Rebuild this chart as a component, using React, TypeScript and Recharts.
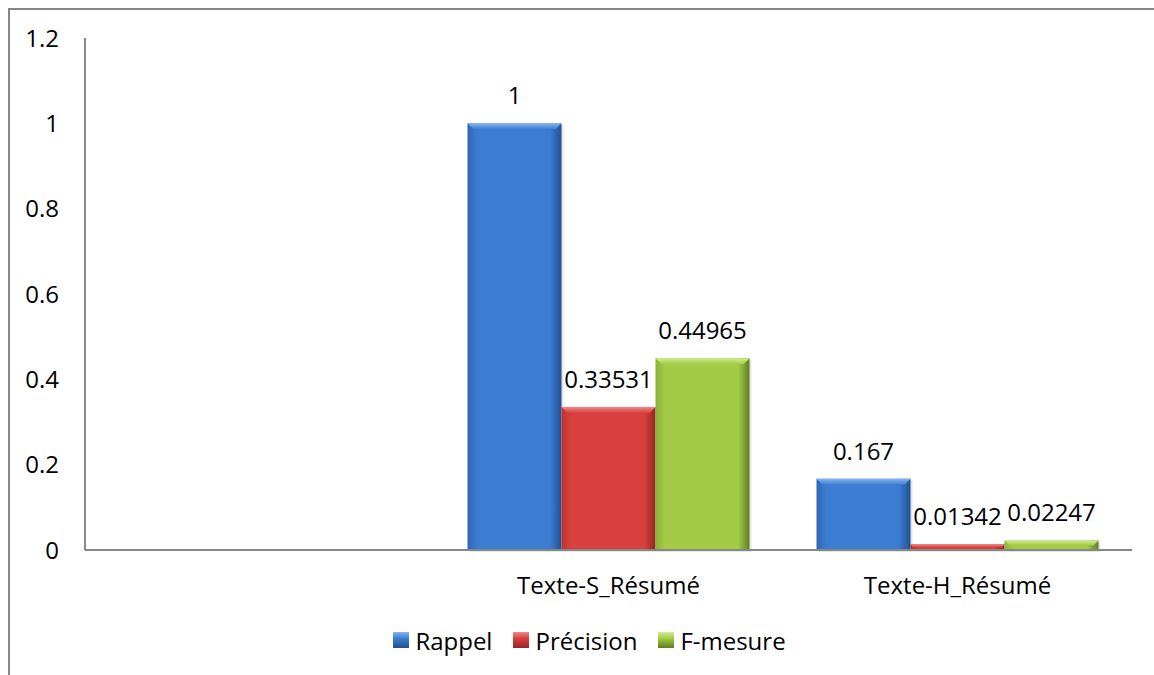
import React from "react";
import { BarChart, Bar, XAxis, YAxis, Legend, LabelList } from "recharts";

// Scores per summary type; the leading blank slot keeps the empty first group on the axis.
const categories = ["", "Texte-S_Résumé", "Texte-H_Résumé"];
const rappel = [null, 1, 0.167];
const precision = [null, 0.33531, 0.01342];
const fMesure = [null, 0.44965, 0.02247];
const yTicks = [0, 0.2, 0.4, 0.6, 0.8, 1, 1.2];
const seriesOrder = ["rappel", "precision", "fMesure"];

const FONT = "'Open Sans', sans-serif";
const FONT_SIZE = 24;
const AXIS = "#878787";

const palette: Record<string, { base: string; edge: string; dark: string; light: string }> = {
  rappel: { base: "#3b7dd3", edge: "#2f66b4", dark: "#24508f", light: "#86b6ee" },
  precision: { base: "#d8403d", edge: "#bd3431", dark: "#932624", light: "#ee8b88" },
  fMesure: { base: "#a3cb45", edge: "#8ab236", dark: "#5f7d22", light: "#d2ec95" },
};

const data = categories.map((name, i) => ({
  name,
  rappel: rappel[i],
  precision: precision[i],
  fMesure: fMesure[i],
}));

function Gradients() {
  return (
    <defs>
      {Object.entries(palette).map(([k, c]) => (
        <React.Fragment key={k}>
          <linearGradient id={`${k}-h`} x1="0" y1="0" x2="1" y2="0">
            <stop offset="0%" stopColor={c.edge} />
            <stop offset="10%" stopColor={c.base} />
            <stop offset="50%" stopColor={c.base} />
            <stop offset="88%" stopColor={c.base} />
            <stop offset="100%" stopColor={c.dark} />
          </linearGradient>
          <linearGradient id={`${k}-top`} x1="0" y1="0" x2="0" y2="1">
            <stop offset="0%" stopColor={c.light} />
            <stop offset="100%" stopColor={c.base} />
          </linearGradient>
          <linearGradient id={`${k}-icon`} x1="0" y1="0" x2="0" y2="1">
            <stop offset="0%" stopColor={c.light} />
            <stop offset="40%" stopColor={c.base} />
            <stop offset="100%" stopColor={c.dark} />
          </linearGradient>
        </React.Fragment>
      ))}
    </defs>
  );
}

// Bevelled bar: horizontal shading plus a lighter top edge and a soft drop shadow.
function BevelBar(props: any) {
  const { x, y, width, height, gid } = props;
  if (!height || height <= 0 || !width) return null;
  const b = Math.min(6, height / 2);
  return (
    <g>
      <rect x={x + 2} y={y + 2} width={width} height={height} fill="rgba(0,0,0,0.10)" />
      <rect x={x} y={y} width={width} height={height} fill={`url(#${gid}-h)`} />
      <polygon
        points={`${x},${y} ${x + width},${y} ${x + width - b},${y + b} ${x + b},${y + b}`}
        fill={`url(#${gid}-top)`}
      />
    </g>
  );
}

function ValueLabel(props: any) {
  const { x, y, width, value } = props;
  if (value == null) return null;
  return (
    <text
      x={x + width / 2}
      y={y - 19}
      textAnchor="middle"
      fontFamily={FONT}
      fontSize={FONT_SIZE}
      fill="#000"
    >
      {String(value)}
    </text>
  );
}

function LegendRow(props: any) {
  const items = [...(props.payload || [])].sort(
    (a: any, b: any) => seriesOrder.indexOf(a.dataKey) - seriesOrder.indexOf(b.dataKey)
  );
  return (
    <div
      style={{
        display: "flex",
        justifyContent: "center",
        paddingLeft: 15,
        fontFamily: FONT,
        fontSize: FONT_SIZE,
        color: "#000",
      }}
    >
      {items.map((it: any, i: number) => (
        <div
          key={it.dataKey}
          style={{ display: "flex", alignItems: "center", marginRight: i < items.length - 1 ? 21 : 0 }}
        >
          <svg width={16} height={16} style={{ marginRight: 6, marginTop: -2 }}>
            <rect width={16} height={16} fill={`url(#${it.dataKey}-icon)`} />
          </svg>
          <span>{it.value}</span>
        </div>
      ))}
    </div>
  );
}

export default function App() {
  const tick = { fontFamily: FONT, fontSize: FONT_SIZE, fill: "#000" };
  return (
    <div style={{ width: 1146, height: 659, overflow: "hidden", background: "#fff" }}>
      {/* frame edges run off the page on the right and bottom */}
      <div style={{ position: "fixed", left: 8, top: 8, width: 2, bottom: 0, background: AXIS }} />
      <div style={{ position: "fixed", left: 8, top: 8, height: 2, right: 0, background: AXIS }} />
      <div style={{ paddingLeft: 2, paddingTop: 2 }}>
        <BarChart
          width={1144}
          height={657}
          data={data}
          margin={{ top: 28, right: 22, left: 0, bottom: 57 }}
          barCategoryGap="9.6%"
          barGap={0}
        >
          <Gradients />
          <XAxis
            dataKey="name"
            height={60}
            tickLine={false}
            tickSize={0}
            tickMargin={27}
            axisLine={{ stroke: AXIS, strokeWidth: 2 }}
            tick={tick}
            interval={0}
          />
          <YAxis
            width={75}
            domain={[0, 1.2]}
            ticks={yTicks}
            tickLine={false}
            tickSize={0}
            tickMargin={26}
            axisLine={{ stroke: AXIS, strokeWidth: 2 }}
            tick={tick}
          />
          <Legend
            verticalAlign="middle"
            align="center"
            layout="horizontal"
            wrapperStyle={{ top: 614, left: 0, width: 1144 }}
            content={<LegendRow />}
          />
          <Bar dataKey="rappel" name="Rappel" fill={palette.rappel.base} isAnimationActive={false}
            shape={(p: any) => <BevelBar {...p} gid="rappel" />}>
            <LabelList dataKey="rappel" content={<ValueLabel />} />
          </Bar>
          <Bar dataKey="precision" name="Précision" fill={palette.precision.base} isAnimationActive={false}
            shape={(p: any) => <BevelBar {...p} gid="precision" />}>
            <LabelList dataKey="precision" content={<ValueLabel />} />
          </Bar>
          <Bar dataKey="fMesure" name="F-mesure" fill={palette.fMesure.base} isAnimationActive={false}
            shape={(p: any) => <BevelBar {...p} gid="fMesure" />}>
            <LabelList dataKey="fMesure" content={<ValueLabel />} />
          </Bar>
        </BarChart>
      </div>
    </div>
  );
}
